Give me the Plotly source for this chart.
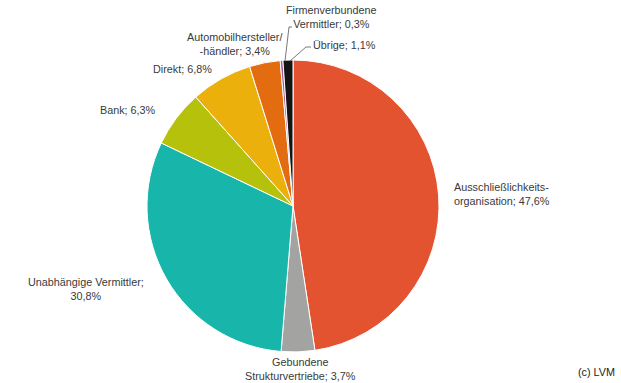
import plotly.graph_objects as go

W, H = 621, 383

categories = ["Ausschließlichkeitsorganisation", "Gebundene Strukturvertriebe", "Unabhängige Vermittler",
              "Bank", "Direkt", "Automobilhersteller/-händler", "Firmenverbundene Vermittler", "Übrige"]
values = [47.6, 3.7, 30.8, 6.3, 6.8, 3.4, 0.3, 1.1]
label_texts = ["Ausschließlichkeits-<br>organisation; 47,6%",
               "Gebundene<br>Strukturvertriebe; 3,7%",
               "Unabhängige Vermittler;<br>30,8%",
               "Bank; 6,3%",
               "Direkt; 6,8%",
               "Automobilhersteller/<br>-händler; 3,4%",
               "Firmenverbundene<br>Vermittler; 0,3%",
               "Übrige; 1,1%"]
colors = ["#E4532F", "#A3A3A1", "#17B5AA", "#B5C10B", "#ECB00C", "#E36C10", "#A25A9C", "#141414"]

# label layout (pixel anchor, alignment)
label_pos = [(452, 194, "left"), (300, 369, "center"), (86, 289, "center"), (128, 110, "center"),
             (183, 69, "center"), (234, 44, "center"), (331, 17, "center"), (344, 45, "center")]

def px(x):
    return x / W

def py(y):
    return 1 - y / H

cx, cy, r = 293, 206, 146

fig = go.Figure(go.Pie(
    labels=categories, values=values, sort=False, direction="clockwise", rotation=0,
    marker=dict(colors=colors, line=dict(color="white", width=1)),
    textinfo="none", hoverinfo="label+percent",
    domain=dict(x=[px(cx - r), px(cx + r)], y=[py(cy + r), py(cy - r)]),
    showlegend=False,
))

for t, (x, y, al) in zip(label_texts, label_pos):
    fig.add_annotation(x=px(x), y=py(y), xref="paper", yref="paper", text=t, showarrow=False,
                       xanchor="left" if al == "left" else "center", yanchor="middle", align=al,
                       font=dict(family="Liberation Sans, Arial", size=10.8, color="#3a3a3a"))

fig.add_annotation(x=px(617), y=py(372), xref="paper", yref="paper", text="(c) LVM", showarrow=False,
                   xanchor="right", yanchor="middle",
                   font=dict(family="Liberation Sans, Arial", size=10.8, color="#222222"))

# leader lines
line_style = dict(color="#555555", width=0.8)
fig.add_shape(type="path", xref="paper", yref="paper",
              path=f"M {px(285)} {py(61)} L {px(289)} {py(27)} L {px(292)} {py(27)}", line=line_style)
fig.add_shape(type="path", xref="paper", yref="paper",
              path=f"M {px(290)} {py(61)} L {px(306)} {py(47)} L {px(311)} {py(47)}", line=line_style)

fig.update_layout(width=W, height=H, margin=dict(l=0, r=0, t=0, b=0),
                  paper_bgcolor="white", plot_bgcolor="white")

fig.write_html("out.html", config={"displayModeBar": False},
               post_script="document.body.style.margin='0';document.body.style.overflow='hidden';")
